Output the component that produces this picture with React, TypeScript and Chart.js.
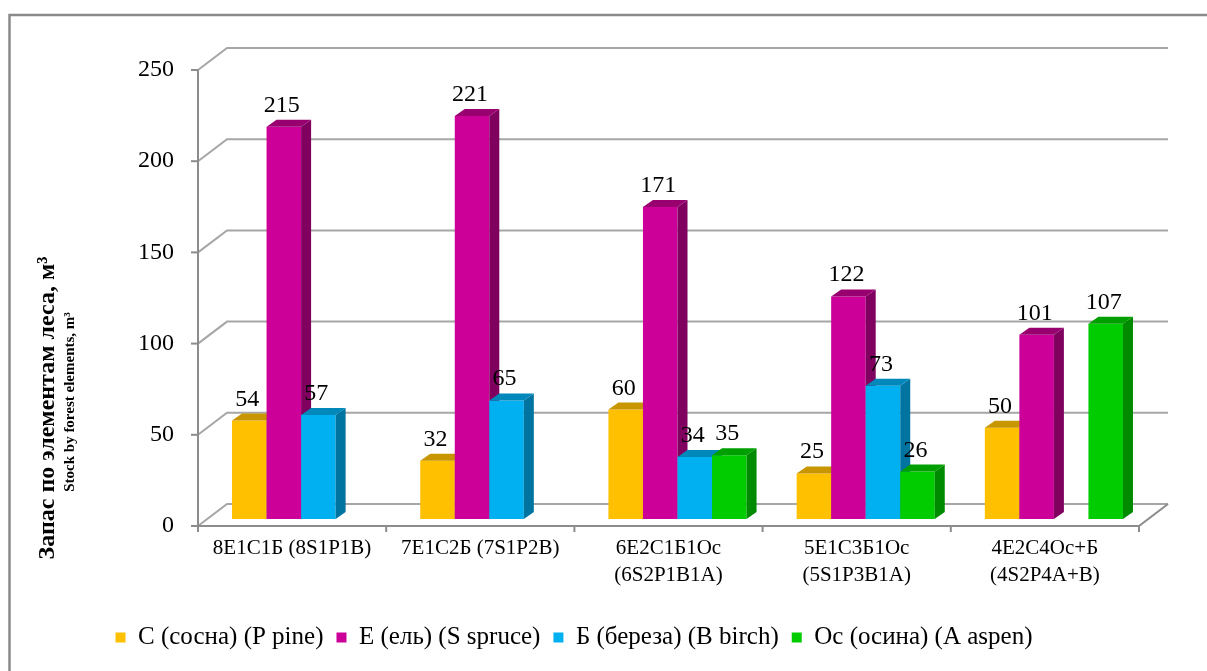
import React, { useEffect, useRef } from 'react';
import { Chart, registerables } from 'chart.js';

Chart.register(...registerables);

// ---- data ----
const categories: string[][] = [
  ['8Е1С1Б (8S1P1B)'],
  ['7Е1С2Б (7S1P2B)'],
  ['6Е2С1Б1Ос', '(6S2P1B1A)'],
  ['5Е1С3Б1Ос', '(5S1P3B1A)'],
  ['4Е2С4Ос+Б', '(4S2P4A+B)'],
];
const seriesNames = ['С (сосна) (P pine)', 'Е (ель) (S spruce)', 'Б (береза) (B birch)', 'Ос (осина) (A aspen)'];
const pine: (number | null)[] = [54, 32, 60, 25, 50];
const spruce: (number | null)[] = [215, 221, 171, 122, 101];
const birch: (number | null)[] = [57, 65, 34, 73, null];
const aspen: (number | null)[] = [null, null, 35, 26, 107];
const yMin = 0;
const yMax = 250;
const yStep = 50;
const yTitle = 'Запас по элементам леса, м³';
const ySubtitle = 'Stock by forest elements, m³';

// ---- styles ----
const frontColors = ['#FFC000', '#CC0099', '#00B0F0', '#00CC00'];
const sideColors = ['#B98A00', '#7F005F', '#0074A0', '#008A00'];
const topColors = ['#C89600', '#99006F', '#0088BB', '#009F00'];
const SERIF = "'Liberation Serif', 'Times New Roman', serif";

// front plane offset relative to the bar plane, and depth of the back wall
const FRONT_DX = -9;
const FRONT_DY = 7;
const WALL_DX = 29;
const WALL_DY = -22;
const BAR_DX = 10;
const BAR_DY = -7;

function drawFaces(chart: any, di: number) {
  const ctx = chart.ctx;
  const meta = chart.getDatasetMeta(di);
  ctx.save();
  meta.data.forEach((el: any, i: number) => {
    const val = chart.data.datasets[di].data[i];
    if (val === null || val === undefined) return;
    const p = el.getProps(['x', 'y', 'base', 'width'], true);
    const l = p.x - p.width / 2;
    const r = p.x + p.width / 2;
    ctx.fillStyle = sideColors[di];
    ctx.beginPath();
    ctx.moveTo(r, p.y);
    ctx.lineTo(r + BAR_DX, p.y + BAR_DY);
    ctx.lineTo(r + BAR_DX, p.base + BAR_DY);
    ctx.lineTo(r, p.base);
    ctx.closePath();
    ctx.fill();
    ctx.fillStyle = topColors[di];
    ctx.beginPath();
    ctx.moveTo(l, p.y);
    ctx.lineTo(l + BAR_DX, p.y + BAR_DY);
    ctx.lineTo(r + BAR_DX, p.y + BAR_DY);
    ctx.lineTo(r, p.y);
    ctx.closePath();
    ctx.fill();
  });
  ctx.restore();
}

const wallPlugin = {
  id: 'wall3d',
  beforeDraw(chart: any) {
    const ctx = chart.ctx;
    ctx.save();
    ctx.fillStyle = '#ffffff';
    ctx.fillRect(0, 0, chart.width, chart.height);
    ctx.strokeStyle = '#8a8a8a';
    ctx.lineWidth = 2.5;
    ctx.beginPath();
    ctx.moveTo(9.5, chart.height);
    ctx.lineTo(9.5, 15);
    ctx.lineTo(chart.width, 15);
    ctx.stroke();
    ctx.restore();
  },
  beforeDatasetsDraw(chart: any) {
    const ctx = chart.ctx;
    const y = chart.scales.y;
    const x = chart.scales.x;
    const area = chart.chartArea;
    const fl = area.left + FRONT_DX;
    const fr = area.right + FRONT_DX;
    ctx.save();
    ctx.strokeStyle = '#a6a6a6';
    ctx.lineWidth = 2;
    for (let v = yMin; v <= yMax; v += yStep) {
      const fy = y.getPixelForValue(v) + FRONT_DY;
      ctx.beginPath();
      ctx.moveTo(fl, fy);
      ctx.lineTo(fl + WALL_DX, fy + WALL_DY);
      ctx.lineTo(fr + WALL_DX, fy + WALL_DY);
      ctx.stroke();
    }
    const f0 = y.getPixelForValue(yMin) + FRONT_DY;
    ctx.strokeStyle = '#8c8c8c';
    ctx.beginPath();
    ctx.moveTo(fl, f0);
    ctx.lineTo(fr, f0);
    ctx.lineTo(fr + WALL_DX, f0 + WALL_DY);
    ctx.stroke();
    const fTop = y.getPixelForValue(yMax) + FRONT_DY;
    ctx.beginPath();
    ctx.moveTo(fl, fTop);
    ctx.lineTo(fl, f0);
    ctx.stroke();
    for (let v = yMin; v <= yMax; v += yStep) {
      const fy = y.getPixelForValue(v) + FRONT_DY;
      ctx.beginPath();
      ctx.moveTo(fl - 7, fy);
      ctx.lineTo(fl, fy);
      ctx.stroke();
    }
    const n = categories.length;
    const w = (area.right - area.left) / n;
    for (let i = 0; i <= n; i++) {
      const cx = x.left + i * w + FRONT_DX;
      ctx.beginPath();
      ctx.moveTo(cx, f0);
      ctx.lineTo(cx, f0 + 6);
      ctx.stroke();
    }
    ctx.restore();

    // draw bars left-to-right by series, each followed by its 3D faces
    chart.data.datasets.forEach((_ds: any, di: number) => {
      const meta = chart.getDatasetMeta(di);
      if (!meta.visible) return;
      meta.controller.draw();
      drawFaces(chart, di);
    });
    return false;
  },
  afterDraw(chart: any) {
    const ctx = chart.ctx;
    ctx.save();
    ctx.fillStyle = '#000';
    ctx.font = `24px ${SERIF}`;
    ctx.textAlign = 'center';
    ctx.textBaseline = 'alphabetic';
    chart.data.datasets.forEach((ds: any, di: number) => {
      const meta = chart.getDatasetMeta(di);
      meta.data.forEach((el: any, i: number) => {
        const val = ds.data[i];
        if (val === null || val === undefined) return;
        const p = el.getProps(['x', 'y'], true);
        ctx.fillText(String(val), p.x - 2, p.y - 15);
      });
    });
    ctx.translate(48, 408);
    ctx.rotate(-Math.PI / 2);
    ctx.textBaseline = 'middle';
    ctx.font = `bold 24px ${SERIF}`;
    ctx.fillText(yTitle, 0, 0);
    ctx.font = `bold 15px ${SERIF}`;
    ctx.fillText(ySubtitle, 6, 22);
    ctx.restore();
  },
};

export default function App() {
  const ref = useRef<HTMLCanvasElement | null>(null);
  useEffect(() => {
    if (!ref.current) return;
    const series = [pine, spruce, birch, aspen];
    const chart = new Chart(ref.current, {
      type: 'bar',
      data: {
        labels: categories,
        datasets: series.map((d, i) => ({
          label: seriesNames[i],
          data: d,
          backgroundColor: frontColors[i],
          borderWidth: 0,
          categoryPercentage: 0.734,
          barPercentage: 1,
        })),
      },
      options: {
        animation: false,
        responsive: false,
        maintainAspectRatio: false,
        layout: { padding: { left: 0, right: 59, top: 63, bottom: 11 } },
        scales: {
          x: {
            grid: { display: false, drawTicks: false },
            border: { display: false },
            ticks: {
              color: '#000',
              font: { family: SERIF, size: 21, lineHeight: 1.3 },
              padding: 16,
              labelOffset: FRONT_DX,
              maxRotation: 0,
              autoSkip: false,
            },
            afterFit: (s: any) => {
              s.height = 93;
            },
          },
          y: {
            min: yMin,
            max: yMax,
            grid: { display: false, drawTicks: false },
            border: { display: false },
            ticks: {
              stepSize: yStep,
              color: '#000',
              font: { family: SERIF, size: 24 },
              padding: 33,
              labelOffset: FRONT_DY,
            },
            afterFit: (s: any) => {
              s.width = 207;
            },
          },
        },
        plugins: {
          legend: {
            position: 'bottom',
            labels: {
              color: '#000',
              font: { family: SERIF, size: 25 },
              boxWidth: 10,
              boxHeight: 10,
              padding: 13,
            },
          },
          tooltip: { enabled: false },
        },
      },
      plugins: [wallPlugin],
    } as any);
    return () => chart.destroy();
  }, []);
  return (
    <div style={{ position: 'absolute', left: 0, top: 0, width: 1207, height: 671 }}>
      <canvas ref={ref} width={1207} height={671} style={{ display: 'block' }} />
    </div>
  );
}
